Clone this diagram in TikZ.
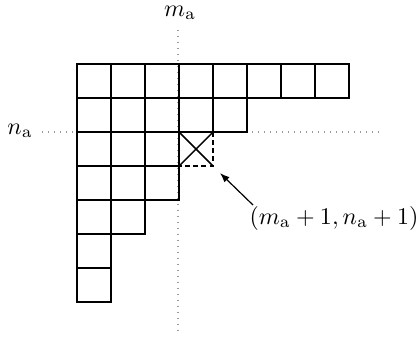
\documentclass[tikz,border=0pt]{standalone}
\usetikzlibrary{arrows.meta}
\begin{document}
\begin{tikzpicture}[x=0.417pt,y=-0.417pt,
  cell/.style={draw=black,line width=0.6pt},
  guide/.style={draw=gray!80,dotted,line width=0.5pt},
  dashcell/.style={draw=black,line width=0.6pt,dash pattern=on 2pt off 1.4pt},
  lbl/.style={inner sep=0pt}]
\useasboundingbox (0,0) rectangle (419,337);
% guide lines
\coordinate (vtop) at (178,30);
\coordinate (vbot) at (178,333);
\coordinate (hl) at (42,132);
\coordinate (hr) at (379,132);
\draw[guide] (vtop) -- (vbot);
\draw[guide] (hl) -- (hr);
% Young diagram (8,5,3,3,2,1,1)
\foreach \r/\len in {0/8,1/5,2/3,3/3,4/2,5/1,6/1}{
  \foreach \c in {1,...,\len}{
    \draw[cell] ({77+34*(\c-1)},{64+34*\r}) rectangle ++(34,34);
  }
}
% added cell
\coordinate (xa) at (179,132);
\coordinate (xb) at (213,132);
\coordinate (xc) at (213,166);
\coordinate (xd) at (179,166);
\draw[dashcell] (xb) -- (xc) -- (xd);
\draw[cell] (xa) -- (xc);
\draw[cell] (xb) -- (xd);
% labels
\node[lbl] (ma) at (180,13) {$m_{\mathrm{a}}$};
\node[lbl] (na) at (20,131) {$n_{\mathrm{a}}$};
\node[lbl] (pt) at (334,218) {$(m_{\mathrm{a}}+1,n_{\mathrm{a}}+1)$};
\coordinate (tip) at (220,173);
\draw[line width=0.5pt,-{Latex[length=4pt,width=3pt]}] (253,205) -- (tip);
\end{tikzpicture}
\end{document}
